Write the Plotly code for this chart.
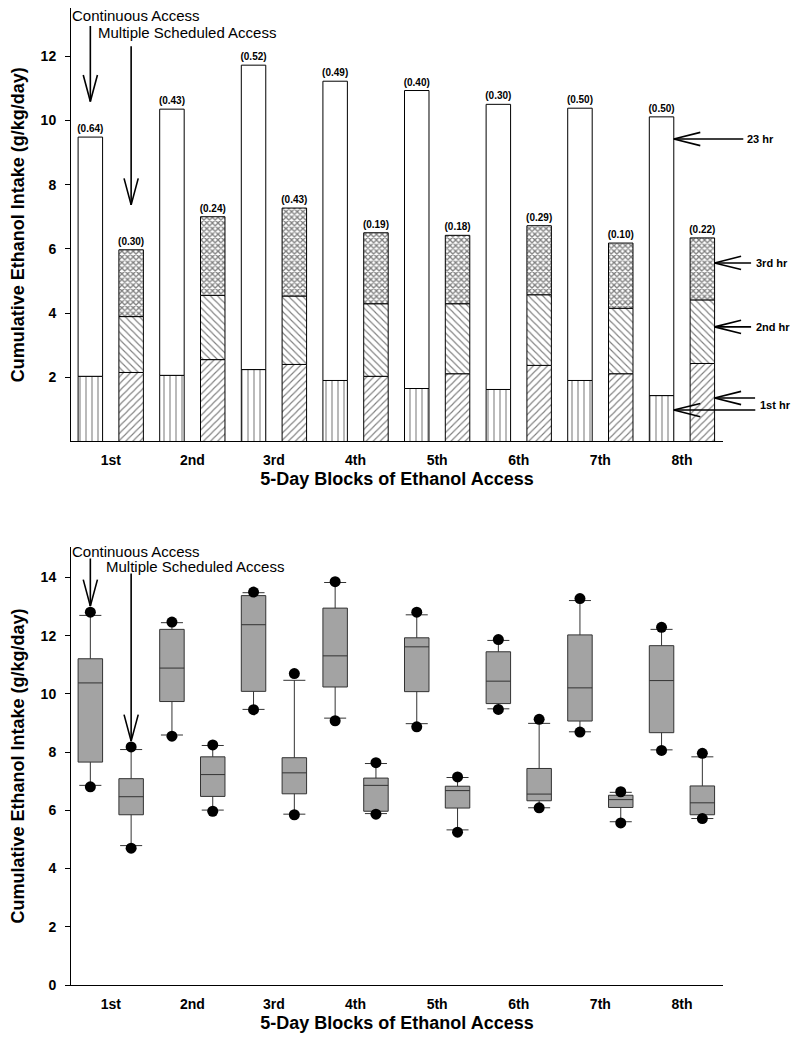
import plotly.graph_objects as go

# ---------------- data ----------------
blocks = ["1st", "2nd", "3rd", "4th", "5th", "6th", "7th", "8th"]

# Top panel: cumulative intake (g/kg/day)
cont_first_hr = [2.03, 2.06, 2.24, 1.90, 1.65, 1.62, 1.90, 1.43]
cont_total = [9.48, 10.35, 11.72, 11.22, 10.93, 10.50, 10.38, 10.11]
cont_sem = ["(0.64)", "(0.43)", "(0.52)", "(0.49)", "(0.40)", "(0.30)", "(0.50)", "(0.50)"]

msa_cum_1st = [2.15, 2.55, 2.40, 2.03, 2.11, 2.37, 2.11, 2.43]
msa_cum_2nd = [3.89, 4.55, 4.53, 4.29, 4.29, 4.57, 4.15, 4.41]
msa_cum_3rd = [5.97, 7.00, 7.27, 6.50, 6.42, 6.72, 6.18, 6.34]
msa_sem = ["(0.30)", "(0.24)", "(0.43)", "(0.19)", "(0.18)", "(0.29)", "(0.10)", "(0.22)"]

# Bottom panel: box statistics
cont_q1 = [7.66, 9.74, 10.09, 10.24, 10.08, 9.67, 9.07, 8.67]
cont_med = [10.38, 10.89, 12.38, 11.31, 11.62, 10.44, 10.21, 10.46]
cont_q3 = [11.21, 12.22, 13.38, 12.95, 11.93, 11.45, 12.03, 11.66]
cont_lo = [6.86, 8.59, 9.47, 9.17, 8.98, 9.49, 8.70, 8.08]
cont_hi = [12.70, 12.45, 13.48, 13.83, 12.72, 11.84, 13.21, 12.22]
cont_out_lo = [6.81, 8.55, 9.46, 9.08, 8.87, 9.47, 8.69, 8.06]
cont_out_hi = [12.81, 12.47, 13.50, 13.86, 12.81, 11.87, 13.28, 12.29]

msa_q1 = [5.85, 6.48, 6.57, 5.97, 6.08, 6.33, 6.10, 5.85]
msa_med = [6.47, 7.23, 7.29, 6.86, 6.68, 6.56, 6.37, 6.26]
msa_q3 = [7.09, 7.84, 7.81, 7.11, 6.83, 7.44, 6.52, 6.84]
msa_lo = [4.79, 6.01, 5.87, 5.89, 5.33, 6.09, 5.61, 5.72]
msa_hi = [8.09, 8.23, 10.47, 7.61, 7.13, 8.99, 6.62, 7.84]
msa_out_lo = [4.70, 5.97, 5.85, 5.87, 5.25, 6.09, 5.57, 5.72]
msa_out_hi = [8.18, 8.25, 10.70, 7.64, 7.15, 9.13, 6.64, 7.96]

FONT = "Arial, Liberation Sans, sans-serif"
BLACK = "black"
outline = dict(color=BLACK, width=1)


def pat(shape, size, sol):
    return dict(shape=shape, fgcolor=BLACK, bgcolor="white", size=size, solidity=sol)


fig = go.Figure()

# ---------------- top panel: stacked/grouped bars ----------------
fig.add_bar(x=blocks, y=cont_first_hr, offsetgroup="cont",
            marker=dict(color="white", line=outline, pattern=pat("|", 6, 0.18)),
            xaxis="x", yaxis="y")
fig.add_bar(x=blocks, y=[t - f for t, f in zip(cont_total, cont_first_hr)],
            base=cont_first_hr, offsetgroup="cont",
            marker=dict(color="white", line=outline),
            text=cont_sem, textposition="outside", constraintext="none", cliponaxis=False,
            textfont=dict(size=10, family=FONT, color=BLACK, weight="bold"),
            xaxis="x", yaxis="y")
fig.add_bar(x=blocks, y=msa_cum_1st, offsetgroup="msa",
            marker=dict(color="white", line=outline, pattern=pat("/", 5, 0.22)),
            xaxis="x", yaxis="y")
fig.add_bar(x=blocks, y=[b - a for a, b in zip(msa_cum_1st, msa_cum_2nd)],
            base=msa_cum_1st, offsetgroup="msa",
            marker=dict(color="white", line=outline, pattern=pat("\\", 5, 0.22)),
            xaxis="x", yaxis="y")
fig.add_bar(x=blocks, y=[b - a for a, b in zip(msa_cum_2nd, msa_cum_3rd)],
            base=msa_cum_2nd, offsetgroup="msa",
            marker=dict(color="white", line=outline, pattern=pat("x", 4, 0.55)),
            text=msa_sem, textposition="outside", constraintext="none", cliponaxis=False,
            textfont=dict(size=10, family=FONT, color=BLACK, weight="bold"),
            xaxis="x", yaxis="y")

# ---------------- bottom panel: box plots ----------------
box_line = dict(color="#333333", width=1)
fig.add_box(x=blocks, q1=cont_q1, median=cont_med, q3=cont_q3,
            lowerfence=cont_lo, upperfence=cont_hi, offsetgroup="cont",
            fillcolor="#a3a3a3", line=box_line, whiskerwidth=0.9, boxpoints=False,
            xaxis="x2", yaxis="y2")
fig.add_box(x=blocks, q1=msa_q1, median=msa_med, q3=msa_q3,
            lowerfence=msa_lo, upperfence=msa_hi, offsetgroup="msa",
            fillcolor="#a3a3a3", line=box_line, whiskerwidth=0.9, boxpoints=False,
            xaxis="x2", yaxis="y2")
fig.add_scatter(x=blocks + blocks, y=cont_out_hi + cont_out_lo, mode="markers",
                offsetgroup="cont", marker=dict(color=BLACK, size=11),
                xaxis="x2", yaxis="y2", cliponaxis=False)
fig.add_scatter(x=blocks + blocks, y=msa_out_hi + msa_out_lo, mode="markers",
                offsetgroup="msa", marker=dict(color=BLACK, size=11),
                xaxis="x2", yaxis="y2", cliponaxis=False)


# ---------------- annotations ----------------
def arrow(x, y, ax, ay, xref, yref, arms):
    fig.add_annotation(x=x, y=y, ax=ax, ay=ay, xref=xref, yref=yref, text="",
                       showarrow=True, arrowhead=0, arrowwidth=1.6, arrowcolor=BLACK, standoff=0)
    for dx, dy in arms:
        fig.add_annotation(x=x, y=y, ax=dx, ay=dy, xref=xref, yref=yref, text="",
                           showarrow=True, arrowhead=0, arrowwidth=1.6, arrowcolor=BLACK, standoff=0)


down_arms = [(-7.5, -28), (7.5, -28)]
right_arms = [(28, -7), (28, 7)]


def label(text, x, y, xref, yref, size, bold=False):
    fig.add_annotation(x=x, y=y, xref=xref, yref=yref, text=text, showarrow=False,
                       xanchor="left", yanchor="middle",
                       font=dict(family=FONT, size=size, color=BLACK,
                                 weight="bold" if bold else "normal"))


# top panel labels
label("Continuous Access", -0.002, 13.26, "paper", "y", 15)
label("Multiple Scheduled Access", 0.038, 12.75, "paper", "y", 15)
arrow(-0.25, 10.59, 0, -77, "x", "y", down_arms)
arrow(0.25, 7.37, 0, -160, "x", "y", down_arms)

arrow(6.90, 9.42, 71, 0, "x", "y", right_arms)
arrow(7.40, 5.56, 38, 0, "x", "y", right_arms)
arrow(7.40, 3.57, 38, 0, "x", "y", right_arms)
arrow(7.40, 1.355, 42, 0, "x", "y", right_arms)
arrow(6.90, 0.98, 83, 0, "x", "y", right_arms)
label("23 hr", 1.0345, 9.42, "paper", "y", 11, True)
label("3rd hr", 1.048, 5.56, "paper", "y", 11, True)
label("2nd hr", 1.047, 3.57, "paper", "y", 11, True)
label("1st hr", 1.054, 1.14, "paper", "y", 11, True)

# bottom panel labels
label("Continuous Access", -0.002, 14.90, "paper", "y2", 15)
label("Multiple Scheduled Access", 0.051, 14.39, "paper", "y2", 15)
arrow(-0.25, 13.02, 0, -49, "x2", "y2", down_arms)
arrow(0.25, 8.38, 0, -169, "x2", "y2", down_arms)

# ---------------- layout ----------------
tickfont = dict(family=FONT, size=14, color=BLACK, weight="bold")
titlefont = dict(family=FONT, size=18, color=BLACK, weight="bold")

xcommon = dict(type="category", range=[-0.487, 7.503], showline=True, linecolor=BLACK,
               linewidth=1, ticks="", showgrid=False, zeroline=False, automargin=False,
               tickfont=tickfont, ticklabelstandoff=6,
               title=dict(text="5-Day Blocks of Ethanol Access", font=titlefont, standoff=5))
ycommon = dict(showline=True, linecolor=BLACK, linewidth=1, ticks="outside", ticklen=5,
               tickcolor=BLACK, showgrid=False, zeroline=False, tickfont=tickfont,
               ticklabelstandoff=6, automargin=False,
               title=dict(text="Cumulative Ethanol Intake (g/kg/day)", font=titlefont, standoff=15))

fig.update_layout(
    width=792, height=1032,
    margin=dict(l=63, r=77, t=0, b=55),
    paper_bgcolor="white", plot_bgcolor="white",
    showlegend=False,
    barmode="group", bargap=0, bargroupgap=0.4,
    boxmode="group", boxgap=0, boxgroupgap=0.4,
    scattermode="group", scattergap=0,
    font=dict(family=FONT, color=BLACK),
    xaxis=dict(domain=[0, 1], anchor="y", **xcommon),
    yaxis=dict(domain=[0.5563, 1], anchor="x", range=[0, 13.50],
               tickvals=[2, 4, 6, 8, 10, 12], **ycommon),
    xaxis2=dict(domain=[0, 1], anchor="y2", **xcommon),
    yaxis2=dict(domain=[0, 0.4483], anchor="x2", range=[0, 15.05],
                tickvals=[0, 2, 4, 6, 8, 10, 12, 14], **ycommon),
)

fig.write_html("out.html")
